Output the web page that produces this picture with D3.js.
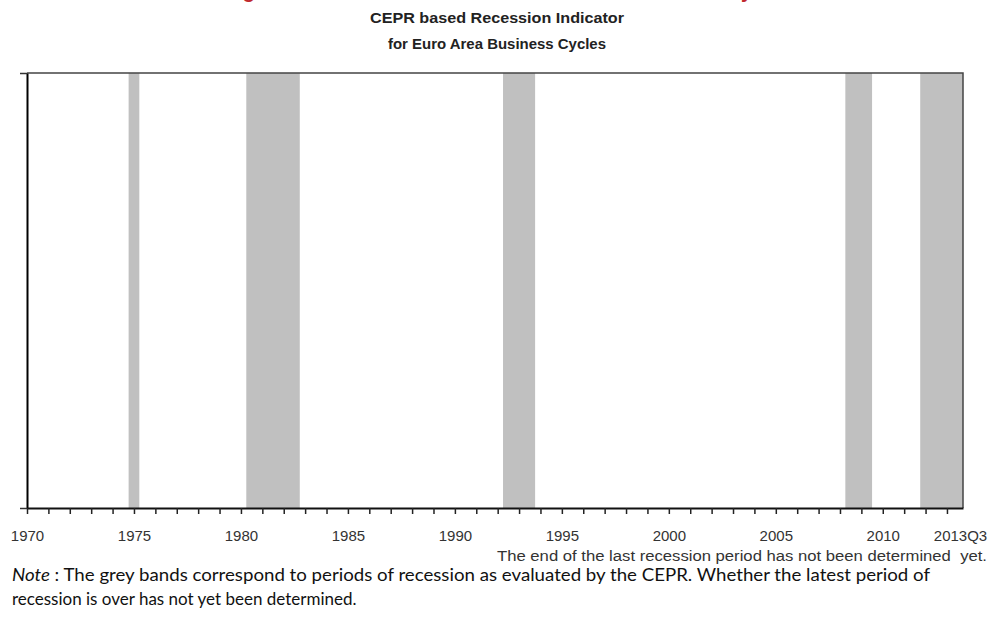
<!DOCTYPE html>
<html>
<head>
<meta charset="utf-8">
<script src="https://cdn.jsdelivr.net/npm/d3@7"></script>
<style>
  body { margin: 0; background: #fff; }
  svg { display: block; }
</style>
</head>
<body>
<div id="chart"></div>
<script>
// recession periods (decimal years, quarter boundaries)
const recessionStart = [1974.75, 1980.25, 1992.25, 2008.25, 2011.75];
const recessionEnd = [1975.25, 1982.75, 1993.75, 2009.5, 2013.75];
const labelYears = [1970, 1975, 1980, 1985, 1990, 1995, 2000, 2005, 2010, 2013.75];
const labelText = ["1970", "1975", "1980", "1985", "1990", "1995", "2000", "2005", "2010", "2013Q3"];
const yearTicks = d3.range(1970, 2014);

const width = 990;
const height = 618;
const plotLeft = 27, plotRight = 963, plotTop = 73, plotBottom = 508;

const svg = d3.select("#chart")
  .append("svg")
  .attr("width", width)
  .attr("height", height);

const x = d3.scaleLinear().domain([1970, 2013.75]).range([plotLeft, plotRight]);
const y = d3.scaleLinear().domain([0, 1]).range([plotBottom, plotTop]);

// red title, cut off at the top of the picture (only descenders show)
svg.append("text")
  .attr("x", 225)
  .attr("y", -2)
  .attr("font-family", "Liberation Sans, Arial, sans-serif")
  .attr("font-weight", "bold")
  .attr("font-size", "20px")
  .attr("fill", "#c0282d")
  .text("Figure 1: Recession Periods for Euro Area Business Cycles");

// subtitle
const sub = svg.append("g")
  .attr("font-family", "Liberation Sans, Arial, sans-serif")
  .attr("font-weight", "bold")
  .attr("font-size", "15.5px")
  .attr("fill", "#222")
  .attr("text-anchor", "middle");
sub.append("text").attr("x", 497).attr("y", 23)
  .attr("textLength", 254).attr("lengthAdjust", "spacingAndGlyphs")
  .text("CEPR based Recession Indicator");
sub.append("text").attr("x", 497).attr("y", 49)
  .attr("textLength", 218).attr("lengthAdjust", "spacingAndGlyphs")
  .text("for Euro Area Business Cycles");

// grey bands
svg.append("g")
  .selectAll("rect")
  .data(recessionStart.map((s, i) => [s, recessionEnd[i]]))
  .join("rect")
  .attr("x", d => x(d[0]))
  .attr("y", y(1))
  .attr("width", d => x(d[1]) - x(d[0]))
  .attr("height", y(0) - y(1))
  .attr("fill", "#c0c0c0");

// top and right frame
svg.append("path")
  .attr("d", `M${plotLeft},${y(1)}H${plotRight}V${y(0)}`)
  .attr("fill", "none")
  .attr("stroke", "#444")
  .attr("stroke-width", 1.5);

// y axis (no labels)
svg.append("g")
  .attr("transform", `translate(${plotLeft},0)`)
  .call(d3.axisLeft(y).tickValues([0, 1]).tickFormat("").tickSize(7).tickSizeOuter(0))
  .call(g => g.select(".domain").attr("stroke-width", 2).attr("stroke", "#000"))
  .call(g => g.selectAll(".tick line").attr("stroke", "#333").attr("stroke-width", 1.5));

// x axis: yearly ticks
svg.append("g")
  .attr("transform", `translate(0,${plotBottom})`)
  .call(d3.axisBottom(x).tickValues(yearTicks).tickFormat("").tickSize(6).tickSizeOuter(0))
  .call(g => g.select(".domain").attr("stroke", "#111").attr("stroke-width", 2))
  .call(g => g.selectAll(".tick line").attr("stroke", "#222").attr("stroke-width", 1.5));

// x labels
svg.append("g")
  .attr("transform", `translate(0,${plotBottom})`)
  .call(d3.axisBottom(x).tickValues(labelYears).tickFormat((d, i) => labelText[i]).tickSize(0).tickPadding(22))
  .call(g => g.select(".domain").remove())
  .call(g => g.selectAll("text")
    .attr("font-family", "Liberation Sans, Arial, sans-serif")
    .attr("font-size", "15px")
    .attr("fill", "#333"))
  .call(g => g.selectAll(".tick").filter(d => d === 2013.75).select("text").attr("dx", -3));

// annotation
svg.append("text")
  .attr("x", 987)
  .attr("y", 561)
  .attr("text-anchor", "end")
  .attr("font-family", "Liberation Sans, Arial, sans-serif")
  .attr("font-size", "14px")
  .attr("fill", "#333")
  .attr("textLength", 490)
  .attr("lengthAdjust", "spacingAndGlyphs")
  .style("white-space", "pre")
  .text("The end of the last recession period has not been determined  yet.");

// note
const note = svg.append("g")
  .attr("font-family", "Lato, 'Open Sans', sans-serif")
  .attr("font-size", "17px")
  .attr("fill", "#111");
const l1 = note.append("text").attr("x", 12).attr("y", 581)
  .attr("textLength", 918).attr("lengthAdjust", "spacingAndGlyphs");
l1.append("tspan").attr("font-style", "italic").text("Note");
l1.append("tspan").text(" : The grey bands correspond to periods of recession as evaluated by the CEPR. Whether the latest period of");
note.append("text").attr("x", 12).attr("y", 605)
  .text("recession is over has not yet been determined.");
</script>
</body>
</html>
